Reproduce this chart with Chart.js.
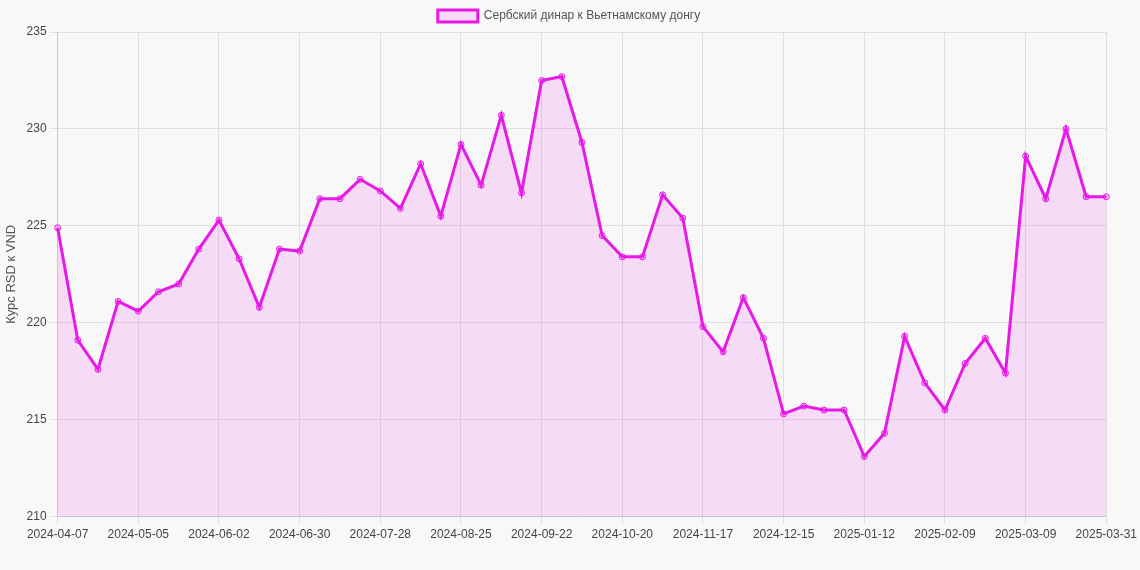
<!DOCTYPE html>
<html>
<head>
<meta charset="utf-8">
<script src="https://cdn.jsdelivr.net/npm/chart.js@4"></script>
<style>
  html, body { margin: 0; padding: 0; background: #f8f8f8; }
  #wrap { width: 1140px; height: 570px; }
</style>
</head>
<body>
<div id="wrap"><canvas id="chart"></canvas></div>
<script>
// weekly dates, last one as printed on the axis
const labels = [];
const start = new Date(Date.UTC(2024, 3, 7));
for (let i = 0; i < 52; i++) {
    const d = new Date(start.getTime() + i * 7 * 86400000);
    labels.push(d.toISOString().slice(0, 10));
}
labels.push('2025-03-31');

const rates = [
    224.9, 219.1, 217.6, 221.1, 220.6, 221.6, 222.0, 223.8, 225.3, 223.3,
    220.8, 223.8, 223.7, 226.4, 226.4, 227.4, 226.8, 225.9, 228.2, 225.5,
    229.2, 227.1, 230.7, 226.7, 232.5, 232.7, 229.3, 224.5, 223.4, 223.4,
    226.6, 225.4, 219.8, 218.5, 221.3, 219.2, 215.3, 215.7, 215.5, 215.5,
    213.1, 214.3, 219.3, 216.9, 215.5, 217.9, 219.2, 217.4, 228.6, 226.4,
    230.0, 226.5, 226.5
];

const seriesName = 'Сербский динар к Вьетнамскому донгу';
const yTitle = 'Курс RSD к VND';

Chart.defaults.font.family = '"Liberation Sans", Arial, sans-serif';
Chart.defaults.color = '#555';

new Chart(document.getElementById('chart').getContext('2d'), {
    type: 'line',
    data: {
        labels: labels,
        datasets: [{
            label: seriesName,
            data: rates,
            borderColor: '#e619e6',
            backgroundColor: 'rgba(230, 25, 230, 0.13)',
            borderWidth: 3,
            fill: true,
            tension: 0,
            pointRadius: 3,
            pointBorderWidth: 1,
            pointBackgroundColor: 'rgba(230, 25, 230, 0.2)',
            pointBorderColor: '#e619e6'
        }]
    },
    options: {
        responsive: true,
        maintainAspectRatio: false,
        animation: false,
        layout: { padding: { right: 2, bottom: 25 } },
        plugins: {
            legend: {
                labels: { font: { size: 12 }, boxWidth: 40, boxHeight: 12 }
            }
        },
        scales: {
            x: {
                grid: { color: '#e0e0e0' },
                ticks: {
                    autoSkip: false,
                    maxRotation: 0,
                    font: { size: 12 },
                    color: '#444',
                    callback: function(v, i) {
                        return (i % 4 === 0 || i === labels.length - 1) ? labels[i] : null;
                    }
                }
            },
            y: {
                min: 210,
                max: 235,
                grid: { color: '#e0e0e0' },
                ticks: { stepSize: 5, font: { size: 12 }, color: '#444' },
                title: { display: true, text: yTitle, font: { size: 13 }, color: '#555' }
            }
        }
    }
});
</script>
</body>
</html>
